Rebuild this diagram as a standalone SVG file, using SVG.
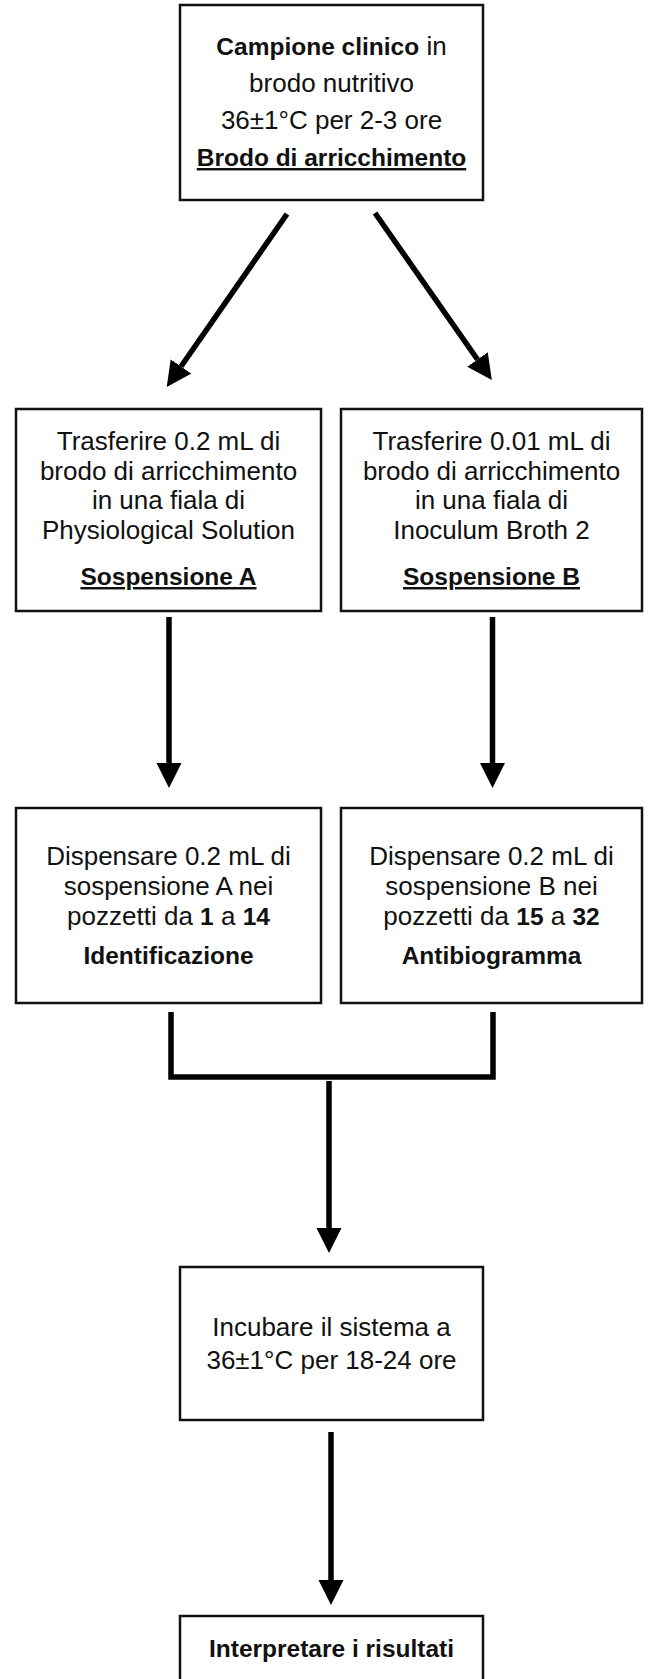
<svg xmlns="http://www.w3.org/2000/svg" width="650" height="1679" viewBox="0 0 650 1679">
<style>
.box{fill:#fff;stroke:#111;stroke-width:2.5}
.t{font-family:"Liberation Sans",Arial,sans-serif;font-size:26px;fill:#111;text-anchor:middle}
.b{font-weight:bold;font-size:24.5px}
.u{text-decoration:underline}
.c{fill:none;stroke:#000;stroke-width:5.5}
</style>
<defs>
<marker id="ah" markerUnits="userSpaceOnUse" markerWidth="26" markerHeight="26" refX="0" refY="12.5" orient="auto" viewBox="0 0 26 26">
<path d="M0,0 L25,12.5 L0,25 z" fill="#000"/>
</marker>
</defs>
<rect width="650" height="1679" fill="#fff"/>
<g id="connectors">
<line class="c" x1="287" y1="214" x2="181" y2="366.5" marker-end="url(#ah)"/>
<line class="c" x1="375" y1="213" x2="477.5" y2="359.5" marker-end="url(#ah)"/>
<line class="c" x1="169" y1="617" x2="169" y2="763" marker-end="url(#ah)"/>
<line class="c" x1="492.5" y1="617" x2="492.5" y2="763" marker-end="url(#ah)"/>
<polyline class="c" points="171,1012 171,1077 493,1077 493,1012"/>
<line class="c" x1="329" y1="1081" x2="329" y2="1228" marker-end="url(#ah)"/>
<line class="c" x1="331" y1="1432" x2="331" y2="1580" marker-end="url(#ah)"/>
</g>
<g id="node-campione">
<rect class="box" x="180" y="5" width="303" height="195"/>
<text class="t" x="331.5" y="55"><tspan class="b">Campione clinico</tspan> in</text>
<text class="t" x="331.5" y="92">brodo nutritivo</text>
<text class="t" x="331.5" y="129">36±1°C per 2-3 ore</text>
<text class="t b u" x="331.5" y="166">Brodo di arricchimento</text>
</g>
<g id="node-sospA">
<rect class="box" x="16" y="409" width="305" height="202"/>
<text class="t" x="168.5" y="450">Trasferire 0.2 mL di</text>
<text class="t" x="168.5" y="480">brodo di arricchimento</text>
<text class="t" x="168.5" y="509">in una fiala di</text>
<text class="t" x="168.5" y="539">Physiological Solution</text>
<text class="t b u" x="168.5" y="585">Sospensione A</text>
</g>
<g id="node-sospB">
<rect class="box" x="341" y="409" width="301" height="202"/>
<text class="t" x="491.5" y="450">Trasferire 0.01 mL di</text>
<text class="t" x="491.5" y="480">brodo di arricchimento</text>
<text class="t" x="491.5" y="509">in una fiala di</text>
<text class="t" x="491.5" y="539">Inoculum Broth 2</text>
<text class="t b u" x="491.5" y="585">Sospensione B</text>
</g>
<g id="node-ident">
<rect class="box" x="16" y="808" width="305" height="195"/>
<text class="t" x="168.5" y="865">Dispensare 0.2 mL di</text>
<text class="t" x="168.5" y="895">sospensione A nei</text>
<text class="t" x="168.5" y="925">pozzetti da <tspan class="b">1</tspan> a <tspan class="b">14</tspan></text>
<text class="t b" x="168.5" y="964">Identificazione</text>
</g>
<g id="node-antibio">
<rect class="box" x="341" y="808" width="301" height="195"/>
<text class="t" x="491.5" y="865">Dispensare 0.2 mL di</text>
<text class="t" x="491.5" y="895">sospensione B nei</text>
<text class="t" x="491.5" y="925">pozzetti da <tspan class="b">15</tspan> a <tspan class="b">32</tspan></text>
<text class="t b" x="491.5" y="964">Antibiogramma</text>
</g>
<g id="node-incubare">
<rect class="box" x="180" y="1267" width="303" height="153"/>
<text class="t" x="331.5" y="1336">Incubare il sistema a</text>
<text class="t" x="331.5" y="1369">36±1°C per 18-24 ore</text>
</g>
<g id="node-interpretare">
<rect class="box" x="180" y="1616" width="303" height="80"/>
<text class="t b" x="331.5" y="1657">Interpretare i risultati</text>
</g>
</svg>
